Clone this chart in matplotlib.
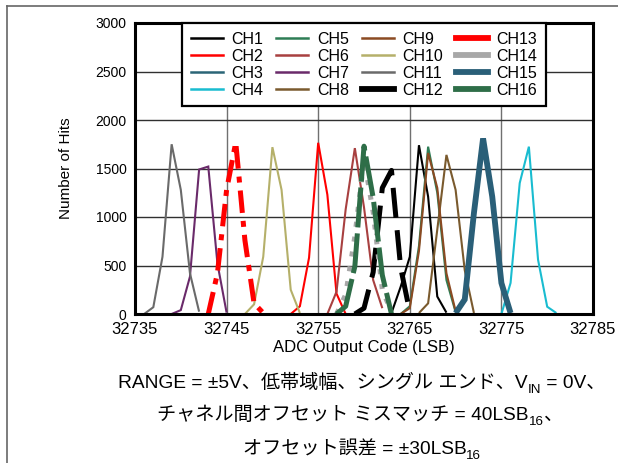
import matplotlib
matplotlib.use("Agg")
import matplotlib.pyplot as plt
from matplotlib.lines import Line2D
import numpy as np

plt.rcParams['font.family'] = ['Liberation Sans', 'DejaVu Sans']

# histogram data: first code of each channel and hit counts per code
channels = ["CH%d" % i for i in range(1, 17)]
start_code = {
    "CH1": 32763, "CH2": 32752, "CH3": 32770, "CH4": 32775,
    "CH5": 32764, "CH6": 32756, "CH7": 32739, "CH8": 32766,
    "CH9": 32764, "CH10": 32747, "CH11": 32736, "CH12": 32759,
    "CH13": 32743, "CH14": 32757, "CH15": 32770, "CH16": 32757,
}
hits = {
    "CH1": [10, 280, 590, 1740, 1210, 180, 14],
    "CH2": [0, 80, 580, 1765, 1230, 210, 0],
    "CH3": [10, 150, 1040, 1810, 1210, 320, 10],
    "CH4": [0, 320, 1350, 1725, 560, 75, 10],
    "CH5": [0, 80, 700, 1725, 1250, 350, 20],
    "CH6": [0, 230, 1080, 1710, 1100, 350, 60],
    "CH7": [0, 40, 385, 1490, 1520, 520, 14],
    "CH8": [10, 110, 870, 1640, 1280, 450, 10],
    "CH9": [0, 60, 650, 1660, 1300, 420, 30],
    "CH10": [0, 100, 590, 1720, 1280, 250, 10],
    "CH11": [0, 70, 590, 1750, 1280, 420, 24],
    "CH12": [0, 60, 430, 1300, 1480, 480, 20],
    "CH13": [0, 420, 1280, 1770, 760, 110, 10],
    "CH14": [0, 200, 800, 1600, 1050, 250, 20],
    "CH15": [10, 150, 1040, 1810, 1210, 320, 10],
    "CH16": [0, 80, 490, 1730, 1200, 400, 0],
}
x_ticks = [32735, 32745, 32755, 32765, 32775, 32785]
y_ticks = [0, 500, 1000, 1500, 2000, 2500, 3000]

colors = {
    "CH1": "#000000", "CH2": "#ff0000", "CH3": "#2b6577", "CH4": "#19bcd0",
    "CH5": "#2e7d55", "CH6": "#a84040", "CH7": "#6a2a6a", "CH8": "#7a5a2e",
    "CH9": "#8b4a22", "CH10": "#b5b06a", "CH11": "#6a6a6a", "CH12": "#000000",
    "CH13": "#ff0000", "CH14": "#a8a8a8", "CH15": "#2a5f78", "CH16": "#2e6e48",
}
widths = {c: 1.5 for c in channels}
widths.update({"CH12": 3.6, "CH13": 3.6, "CH14": 3.6, "CH15": 4.2, "CH16": 3.6})
dashes = {
    "CH12": (6, 2.5),
    "CH13": (4.5, 1.6, 1.2, 1.6),
    "CH14": (1, 2),
    "CH16": (8, 1.2),
}

W, H = 618, 463
fig = plt.figure(figsize=(W / 100, H / 100), dpi=100)
ax = fig.add_axes([135 / W, 1 - 314 / H, (593 - 135) / W, (314 - 23) / H])

for c in channels:
    y = hits[c]
    x = np.arange(start_code[c], start_code[c] + len(y))
    ln, = ax.plot(x, y, color=colors[c], lw=widths[c], solid_joinstyle='miter',
                  solid_capstyle='butt', dash_capstyle='butt')
    if c in dashes:
        ln.set_dashes(dashes[c])

ax.set_xlim(32735, 32785)
ax.set_ylim(0, 3000)
ax.set_xticks(x_ticks)
ax.set_yticks(y_ticks)
ax.tick_params(axis='x', length=0, pad=6, labelsize=12)
ax.tick_params(axis='y', length=0, pad=6, labelsize=10)
ax.xaxis.grid(True, color='#707070', lw=1.0)
ax.yaxis.grid(True, color='#303030', lw=1.0)
ax.set_axisbelow(True)
for sp in ax.spines.values():
    sp.set_linewidth(2.2)
ax.set_xlabel("ADC Output Code (LSB)", fontsize=12, labelpad=2)
ax.set_ylabel("Number of Hits", fontsize=11, labelpad=16)

handles = [Line2D([], [], color=colors[c], lw=(1.8 if widths[c] < 2 else 4.2))
           for c in channels]
leg = ax.legend(handles, channels, ncol=4, loc='upper center',
                bbox_to_anchor=(0.5, 1.0), borderaxespad=0, fontsize=11.5,
                labelspacing=0.12, handlelength=2.0, handletextpad=0.55,
                columnspacing=0.8, fancybox=False, framealpha=1,
                edgecolor='black', borderpad=0.55)
leg.get_frame().set_linewidth(1.6)
leg.set_zorder(10)

# thin frame around the picture
fig.add_artist(Line2D([7 / W, 7 / W], [0, 1 - 6 / H], color='#666666', lw=1.2))
fig.add_artist(Line2D([7 / W, 1], [1 - 6 / H, 1 - 6 / H], color='#666666', lw=1.2))

# caption with subscripts, drawn piece by piece
FAM = ['Liberation Sans', 'Noto Sans CJK JP']
renderer = fig.canvas.get_renderer()


def text_w(s, fs):
    t1 = fig.text(0, 0, "I" + s + "I", fontsize=fs, family=FAM)
    t2 = fig.text(0, 0, "II", fontsize=fs, family=FAM)
    w = t1.get_window_extent(renderer).width - t2.get_window_extent(renderer).width
    t1.remove()
    t2.remove()
    return w


def rich_line(parts, xc, base, fs):
    sizes = [fs * 0.7 if sub else fs for s, sub in parts]
    ws = [text_w(s, f) for (s, sub), f in zip(parts, sizes)]
    x = xc - sum(ws) / 2
    for (s, sub), f, w in zip(parts, sizes, ws):
        yb = base + (fs * 0.35 if sub else 0)
        fig.text(x / W, 1 - yb / H, s, fontsize=f, family=FAM,
                 ha='left', va='baseline')
        x += w


cap_size = 13.8
rich_line([("RANGE = ±5V、低帯域幅、シングル エンド、V", False), ("IN", True),
           (" = 0V、", False)], 362, 388, cap_size)
rich_line([("チャネル間オフセット ミスマッチ = 40LSB", False), ("16", True),
           ("、", False)], 360, 420, cap_size)
rich_line([("オフセット誤差 = ±30LSB", False), ("16", True)], 362, 454, cap_size)

fig.savefig("out.png", dpi=100)
